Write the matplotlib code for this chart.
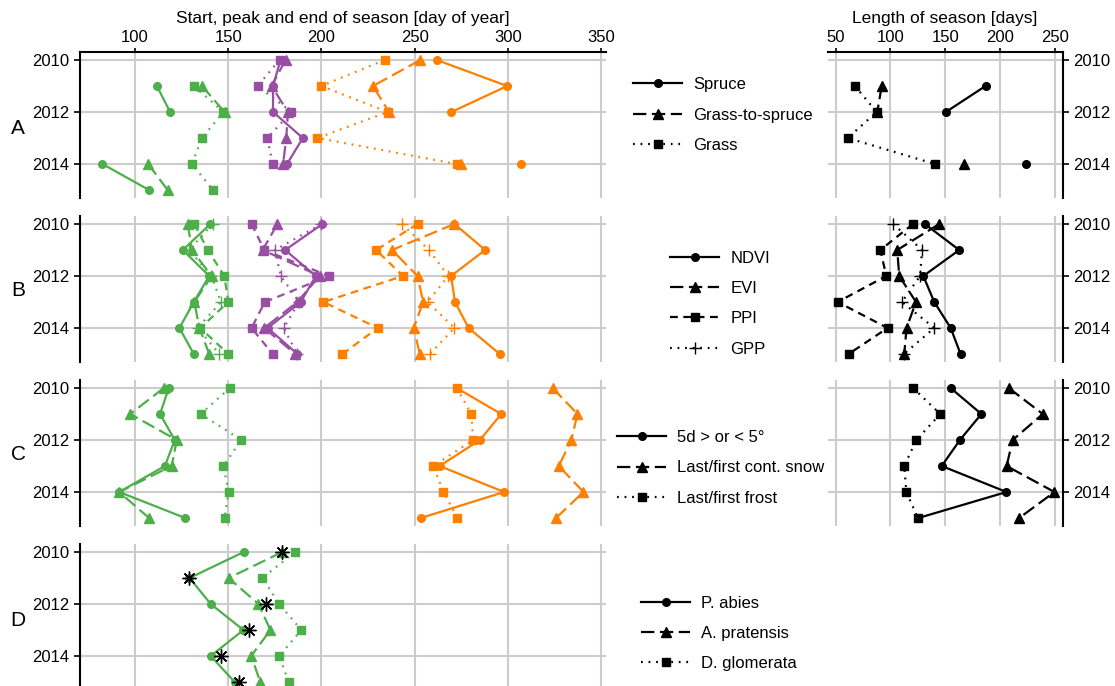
import matplotlib
matplotlib.use("Agg")
import matplotlib.pyplot as plt
from matplotlib.lines import Line2D
import numpy as np

plt.rcParams["font.family"] = ["Liberation Sans", "DejaVu Sans"]

nan = np.nan
YEARS = [2010, 2011, 2012, 2013, 2014, 2015]

# ---------------- panel A: spruce / grass-to-spruce / grass ----------------
A_LABELS = ["Spruce", "Grass-to-spruce", "Grass"]
A_START = [
    [nan, 111.7, 118.8, nan, 82.5, 107.5],
    [nan, 135.9, 148.0, nan, 107.0, 117.5],
    [nan, 131.6, 147.4, 135.9, 130.5, 141.8],
]
A_PEAK = [
    [178.0, 174.0, 174.0, 190.0, 181.5, nan],
    [180.7, 173.2, 182.0, 181.1, 179.4, nan],
    [177.5, 165.7, 183.9, 170.9, 173.9, nan],
]
A_END = [
    [261.8, 299.6, 269.7, nan, 307.0, nan],
    [253.0, 227.6, 236.2, nan, 275.0, nan],
    [233.8, 199.9, 235.5, 197.8, 272.5, nan],
]
A_LENGTH = [
    [nan, 186.8, 150.6, nan, 223.6, nan],
    [nan, 92.0, 88.0, nan, 167.0, nan],
    [nan, 67.6, 87.4, 61.0, 140.6, nan],
]

# ---------------- panel B: NDVI / EVI / PPI / GPP --------------------------
B_LABELS = ["NDVI", "EVI", "PPI", "GPP"]
B_START = [
    [140.4, 125.6, 139.8, 131.5, 123.8, 131.5],
    [128.3, 130.4, 141.1, 131.8, 134.5, 139.8],
    [131.8, 139.0, 147.9, 150.0, 135.0, 150.0],
    [141.6, 129.0, 141.0, 146.1, 133.6, 145.2],
]
B_PEAK = [
    [200.5, 180.5, 196.9, 188.9, 171.1, 187.1],
    [176.4, 168.4, 199.0, 187.0, 169.3, 186.0],
    [162.5, 169.3, 204.0, 169.6, 162.5, 173.8],
    [200.0, 175.0, 178.2, 188.0, 179.7, 187.0],
]
B_END = [
    [271.3, 287.8, 269.5, 271.6, 278.9, 295.6],
    [271.3, 237.8, 251.5, 254.5, 249.5, 252.7],
    [251.5, 229.3, 243.7, 201.0, 230.2, 211.2],
    [243.2, 257.6, 268.0, 256.9, 271.3, 258.1],
]
B_LENGTH = [
    [131.4, 162.8, 130.0, 140.0, 155.0, 164.0],
    [144.5, 106.2, 108.0, 123.3, 114.7, 112.6],
    [120.6, 90.8, 96.2, 51.8, 97.4, 61.8],
    [102.5, 128.9, 127.0, 110.5, 140.0, 112.3],
]

# ---------------- panel C: temperature / snow / frost ----------------------
C_LABELS = ["5d > or < 5°", "Last/first cont. snow", "Last/first frost"]
C_START = [
    [118.1, 113.4, 121.3, 116.0, 91.5, 126.9],
    [115.4, 97.4, 122.4, 119.6, 91.5, 107.5],
    [150.8, 135.2, 157.0, 147.4, 150.2, 148.0],
]
C_END = [
    [272.5, 296.4, 285.0, 263.3, 298.0, 253.3],
    [324.0, 337.3, 334.0, 327.3, 340.5, 325.8],
    [272.5, 280.4, 281.4, 260.0, 265.4, 272.9],
]
C_LENGTH = [
    [154.9, 183.0, 163.4, 146.8, 205.9, 125.5],
    [208.0, 239.0, 211.6, 206.0, 249.7, 217.5],
    [120.6, 145.5, 123.6, 112.6, 114.5, 125.0],
]

# ---------------- panel D: species flowering -------------------------------
D_LABELS = ["P. abies", "A. pratensis", "D. glomerata"]
D_START = [
    [158.3, 129.2, 140.6, 158.1, 140.6, 153.4],
    [179.0, 150.2, 166.2, 172.6, 162.3, 167.2],
    [185.8, 168.3, 177.3, 189.2, 177.3, 182.4],
]
D_OBSERVED = [179.0, 129.2, 170.0, 161.3, 146.3, 156.0]

GREEN, PURPLE, ORANGE = "#4daf4a", "#984ea3", "#ff7f00"
GRID = "#cccccc"

W, H = 1115, 686
PX_YEAR = 26.0
PANEL_Y2010 = [60, 224, 388, 552]


def box(left, top, right, bottom):
    return [left / W, 1 - bottom / H, (right - left) / W, (bottom - top) / H]


SOLID = dict(marker="o", linestyle="-")
LONGDASH = dict(marker="^", linestyle=(0, (6, 2.5)))
DASHED = dict(marker="s", linestyle=(0, (3.5, 2.5)))
DOTTED = dict(marker="s", linestyle=(0, (0.8, 2.6)))
PLUS = dict(marker="+", linestyle=(0, (0.8, 2.6)))

STYLE3 = [SOLID, LONGDASH, DOTTED]
STYLE4 = [SOLID, LONGDASH, DASHED, PLUS]


def marker_size(m):
    return 6.5 if m == "^" else (8 if m == "+" else 5.5)


def draw(ax, values, styles, color):
    for vals, st in zip(values, styles):
        ax.plot(vals, YEARS, color=color, lw=1.6, ms=marker_size(st["marker"]),
                mew=1.0, marker=st["marker"], linestyle=st["linestyle"],
                markeredgecolor=color)


def style_axis(ax, xlim, xticks, side, top):
    ax.set_ylim(2015.3, 2009.7)
    ax.set_xlim(*xlim)
    ax.set_xticks(xticks)
    ax.set_yticks([2010, 2012, 2014])
    ax.grid(True, color=GRID, lw=1.5)
    ax.set_axisbelow(True)
    for s in ax.spines.values():
        s.set_visible(False)
    ax.spines[side].set_visible(True)
    ax.spines[side].set_linewidth(1.5)
    if top:
        ax.spines["top"].set_visible(True)
        ax.spines["top"].set_linewidth(1.5)
    ax.tick_params(axis="x", top=top, bottom=False, labeltop=top,
                   labelbottom=False, length=3, width=1.2, labelsize=12, pad=2)
    if side == "left":
        ax.tick_params(axis="y", left=True, right=False, labelleft=True,
                       labelright=False, length=4, width=1.2, labelsize=12)
    else:
        ax.tick_params(axis="y", left=False, right=True, labelleft=False,
                       labelright=True, length=4, width=1.2, labelsize=12)


fig = plt.figure(figsize=(W / 100, H / 100), dpi=100)

left_axes, right_axes = [], []
for i, y0 in enumerate(PANEL_Y2010):
    top, bottom = y0 - 0.3 * PX_YEAR, y0 + 5.3 * PX_YEAR
    axl = fig.add_axes(box(79.5, top, 606, bottom))
    style_axis(axl, (70.2, 352.6), [100, 150, 200, 250, 300, 350], "left", i == 0)
    left_axes.append(axl)
    if i < 3:
        axr = fig.add_axes(box(828, top, 1063, bottom))
        style_axis(axr, (43, 257.5), [50, 100, 150, 200, 250], "right", i == 0)
        right_axes.append(axr)

# A
draw(left_axes[0], A_START, STYLE3, GREEN)
draw(left_axes[0], A_PEAK, STYLE3, PURPLE)
draw(left_axes[0], A_END, STYLE3, ORANGE)
draw(right_axes[0], A_LENGTH, STYLE3, "black")
# B
draw(left_axes[1], B_START, STYLE4, GREEN)
draw(left_axes[1], B_PEAK, STYLE4, PURPLE)
draw(left_axes[1], B_END, STYLE4, ORANGE)
draw(right_axes[1], B_LENGTH, STYLE4, "black")
# C
draw(left_axes[2], C_START, STYLE3, GREEN)
draw(left_axes[2], C_END, STYLE3, ORANGE)
draw(right_axes[2], C_LENGTH, STYLE3, "black")
# D
draw(left_axes[3], D_START, STYLE3, GREEN)
left_axes[3].plot(D_OBSERVED, YEARS, linestyle="none", marker=(8, 2, 0),
                  ms=10, mew=1.0, color="black")

# titles and panel letters
fig.text(343 / W, 1 - 18 / H, "Start, peak and end of season [day of year]",
         ha="center", va="center", fontsize=12.5)
fig.text(945 / W, 1 - 18 / H, "Length of season [days]",
         ha="center", va="center", fontsize=12.5)
for letter, y in zip("ABCD", [128, 291, 455, 620]):
    fig.text(18 / W, 1 - y / H, letter, ha="center", va="center", fontsize=15)


def legend(labels, styles, x, y):
    handles = [Line2D([], [], color="black", lw=1.6,
                      ms=marker_size(st["marker"]), mew=1.0,
                      marker=st["marker"], linestyle=st["linestyle"])
               for st in styles]
    fig.legend(handles, labels, loc="center left",
               bbox_to_anchor=(x / W, 1 - y / H), frameon=False, fontsize=12,
               handlelength=2.95, handletextpad=0.66, labelspacing=0.92,
               borderpad=0, borderaxespad=0)


legend(A_LABELS, STYLE3, 633, 115)
legend(B_LABELS, STYLE4, 670, 303.5)
legend(C_LABELS, STYLE3, 617, 468)
legend(D_LABELS, STYLE3, 641, 633.5)

fig.savefig("out.png", dpi=100)
